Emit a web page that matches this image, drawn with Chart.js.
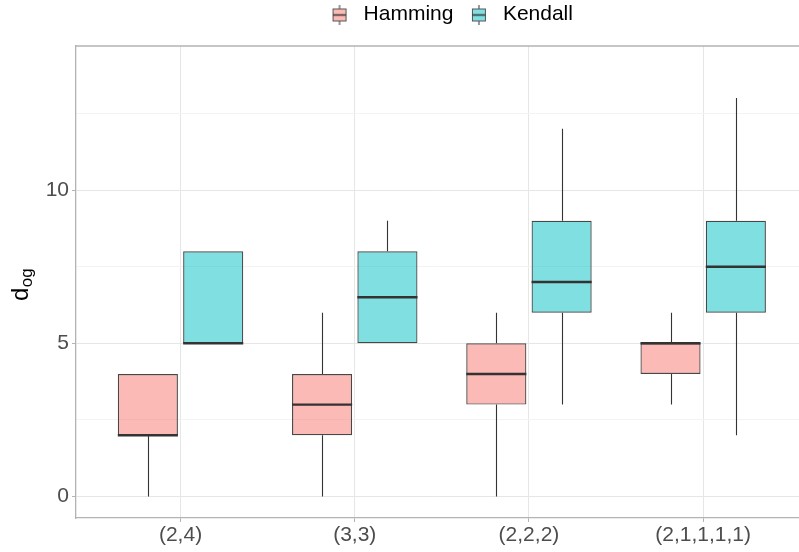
<!DOCTYPE html>
<html>
<head>
<meta charset="utf-8">
<script src="https://cdn.jsdelivr.net/npm/chart.js@4.4.1/dist/chart.umd.min.js"></script>
<style>
  html, body { margin: 0; padding: 0; background: #fff; }
</style>
</head>
<body>
<canvas id="chart" width="799" height="552"></canvas>
<script>
// Data
const categories = ['(2,4)', '(3,3)', '(2,2,2)', '(2,1,1,1,1)'];
const seriesNames = ['Hamming', 'Kendall'];

const hammingMin = [0, 0, 0, 3];
const hammingQ1 = [2, 2, 3, 4];
const hammingMed = [2, 3, 4, 5];
const hammingQ3 = [4, 4, 5, 5];
const hammingMax = [4, 6, 6, 6];

const kendallMin = [5, 5, 3, 2];
const kendallQ1 = [5, 5, 6, 6];
const kendallMed = [5, 6.5, 7, 7.5];
const kendallQ3 = [8, 8, 9, 9];
const kendallMax = [8, 9, 12, 13];

const yMajorTicks = [0, 5, 10];
const yMinorTicks = [2.5, 7.5, 12.5];

// Styles
const FONT = "'Liberation Sans', Arial, Helvetica, sans-serif";
const fills = ['rgba(248,118,109,0.5)', 'rgba(0,191,196,0.5)'];
const gridMajor = '#e6e6e6';
const gridMinor = '#f3f3f3';
const frameColor = '#b3b3b3';

function keyGlyph(fill) {
    const c = document.createElement('canvas');
    c.width = 16;
    c.height = 20;
    const g = c.getContext('2d');
    g.strokeStyle = '#333';
    g.lineWidth = 1;
    g.beginPath();
    g.moveTo(8, 0);
    g.lineTo(8, 20);
    g.stroke();
    g.fillStyle = '#fff';
    g.fillRect(1.5, 4.5, 13, 12);
    g.fillStyle = fill;
    g.fillRect(1.5, 4.5, 13, 12);
    g.strokeStyle = '#555';
    g.strokeRect(1.5, 4.5, 13, 12);
    g.lineWidth = 1.5;
    g.strokeStyle = '#333';
    g.beginPath();
    g.moveTo(1.5, 10.5);
    g.lineTo(14.5, 10.5);
    g.stroke();
    return c;
}
const glyphs = fills.map(keyGlyph);

function makeDataset(idx, mins, q1s, meds, q3s, maxs) {
    return {
        label: seriesNames[idx],
        data: categories.map((c, i) => ({ x: i + 1, y: [q1s[i], q3s[i]] })),
        stats: { min: mins, med: meds, max: maxs, q1: q1s, q3: q3s },
        backgroundColor: fills[idx],
        borderColor: '#474747',
        borderWidth: 1.2,
        borderSkipped: false,
        categoryPercentage: 0.75,
        barPercentage: 0.92
    };
}

// whiskers behind the boxes, medians on top, plus the panel's top edge
const boxPlot = {
    id: 'boxPlot',
    beforeDatasetsDraw(chart) {
        const ctx = chart.ctx;
        const y = chart.scales.y;
        ctx.save();
        ctx.strokeStyle = '#333';
        ctx.lineWidth = 1.1;
        chart.data.datasets.forEach((ds, i) => {
            chart.getDatasetMeta(i).data.forEach((bar, j) => {
                const x = Math.round(bar.x) + 0.5;
                ctx.beginPath();
                ctx.moveTo(x, y.getPixelForValue(ds.stats.min[j]));
                ctx.lineTo(x, y.getPixelForValue(ds.stats.q1[j]));
                ctx.moveTo(x, y.getPixelForValue(ds.stats.q3[j]));
                ctx.lineTo(x, y.getPixelForValue(ds.stats.max[j]));
                ctx.stroke();
            });
        });
        ctx.restore();
    },
    afterDatasetsDraw(chart) {
        const ctx = chart.ctx;
        const y = chart.scales.y;
        const area = chart.chartArea;
        ctx.save();
        ctx.strokeStyle = '#333';
        ctx.lineWidth = 2.4;
        chart.data.datasets.forEach((ds, i) => {
            chart.getDatasetMeta(i).data.forEach((bar, j) => {
                const py = y.getPixelForValue(ds.stats.med[j]);
                ctx.beginPath();
                ctx.moveTo(bar.x - bar.width / 2, py);
                ctx.lineTo(bar.x + bar.width / 2, py);
                ctx.stroke();
            });
        });
        ctx.strokeStyle = frameColor;
        ctx.lineWidth = 1.3;
        ctx.beginPath();
        ctx.moveTo(area.left, area.top);
        ctx.lineTo(area.right, area.top);
        ctx.stroke();
        ctx.restore();
    }
};

// y axis title: d with subscript og
const yTitle = {
    id: 'yTitle',
    afterDraw(chart) {
        const ctx = chart.ctx;
        const area = chart.chartArea;
        const cy = (area.top + area.bottom) / 2 + 19;
        ctx.save();
        ctx.translate(28, cy);
        ctx.rotate(-Math.PI / 2);
        ctx.fillStyle = '#000';
        ctx.textBaseline = 'alphabetic';
        ctx.textAlign = 'left';
        ctx.font = '24px ' + FONT;
        ctx.fillText('d', 0, 0);
        const w = ctx.measureText('d').width;
        ctx.font = '17px ' + FONT;
        ctx.fillText('og', w + 0.5, 4);
        ctx.restore();
    }
};

// ggplot centres the legend over the panel and sits it higher
const legendShift = {
    id: 'legendShift',
    afterLayout(chart) {
        const lg = chart.legend;
        if (lg) {
            lg.left += 50;
            lg.right += 50;
            lg.top -= 11;
            lg.bottom -= 11;
        }
    }
};

new Chart(document.getElementById('chart'), {
    type: 'bar',
    data: {
        datasets: [
            makeDataset(0, hammingMin, hammingQ1, hammingMed, hammingQ3, hammingMax),
            makeDataset(1, kendallMin, kendallQ1, kendallMed, kendallQ3, kendallMax)
        ]
    },
    options: {
        responsive: false,
        animation: false,
        layout: { padding: { top: 3, left: 0, right: 0, bottom: 0 } },
        plugins: {
            tooltip: { enabled: false },
            legend: {
                position: 'top',
                labels: {
                    usePointStyle: true,
                    pointStyleWidth: 27,
                    padding: 12,
                    color: '#000',
                    font: { family: FONT, size: 21 },
                    generateLabels: chart => chart.data.datasets.map((ds, i) => ({
                        text: ds.label,
                        pointStyle: glyphs[i],
                        fillStyle: fills[i],
                        strokeStyle: '#555',
                        lineWidth: 0,
                        fontColor: '#000',
                        hidden: false,
                        datasetIndex: i
                    }))
                }
            }
        },
        scales: {
            x: {
                type: 'linear',
                min: 0.4,
                max: 4.55,
                offset: false,
                afterBuildTicks: s => { s.ticks = categories.map((c, i) => ({ value: i + 1 })); },
                afterFit: s => { s.height = 34; },
                ticks: {
                    autoSkip: false,
                    maxRotation: 0,
                    padding: 1,
                    color: '#4d4d4d',
                    font: { family: FONT, size: 21 },
                    callback: v => categories[v - 1]
                },
                grid: { offset: false, color: gridMajor, tickColor: frameColor, tickLength: 4, lineWidth: 1 },
                border: { color: frameColor, width: 1.3 }
            },
            y: {
                min: -0.7,
                max: 14.7,
                afterBuildTicks: s => {
                    s.ticks = yMajorTicks.concat(yMinorTicks).sort((a, b) => a - b).map(v => ({ value: v }));
                },
                afterFit: s => { s.width = 76; },
                ticks: {
                    padding: 3,
                    color: '#4d4d4d',
                    font: { family: FONT, size: 21 },
                    callback: v => yMajorTicks.includes(v) ? String(v) : ''
                },
                grid: {
                    color: c => yMajorTicks.includes(c.tick.value) ? gridMajor : gridMinor,
                    tickColor: c => yMajorTicks.includes(c.tick.value) ? frameColor : 'rgba(0,0,0,0)',
                    tickLength: 4,
                    lineWidth: 1
                },
                border: { color: frameColor, width: 1.3 }
            }
        }
    },
    plugins: [boxPlot, yTitle, legendShift]
});
</script>
</body>
</html>
